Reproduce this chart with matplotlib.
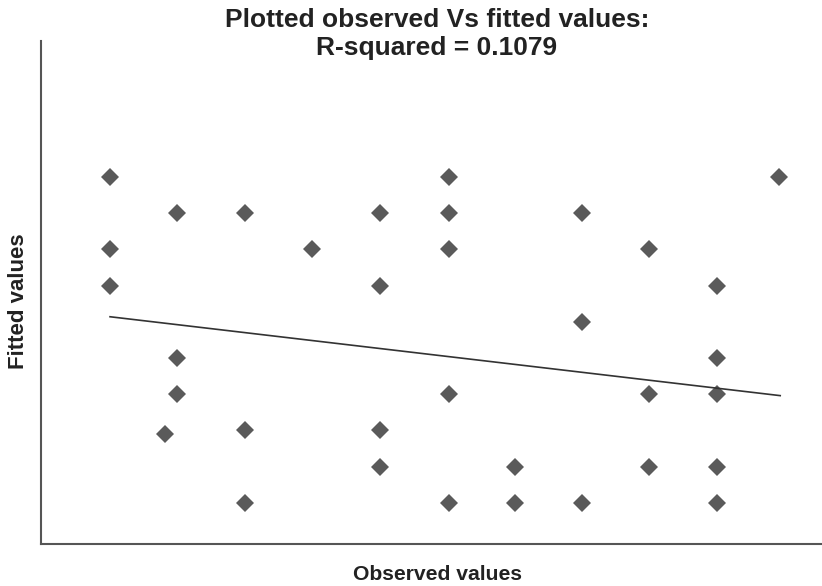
import matplotlib
matplotlib.use("Agg")
import matplotlib.pyplot as plt
import numpy as np

plt.rcParams['font.family'] = ['Liberation Sans', 'DejaVu Sans']

# observed (x) and fitted (y) values
obs = [1, 1, 1, 2, 2, 2, 1.82, 3, 3, 3, 4, 5, 5, 5, 5,
       6.03, 6.03, 6.03, 6.03, 6.03, 7, 7, 8, 8, 8, 9, 9, 9, 10, 10, 10, 10, 10, 10.92]
fitted = [10, 8, 7, 9, 5, 4, 2.9, 9, 3, 1, 8, 9, 7, 3, 2,
          10, 9, 8, 4, 1, 2, 1, 9, 6, 1, 8, 4, 2, 7, 5, 4, 2, 1, 10]

# regression line end points
line_x = [1, 10.94]
line_y = [6.14, 3.96]

fig = plt.figure(figsize=(8.22, 5.86), dpi=100)
ax = fig.add_axes([41/822, 1 - 544/586, 1 - 41/822, (544 - 41)/586])

ax.plot(obs, fitted, linestyle='none', marker='D', markersize=9.5,
        color='#5a5a5a', markeredgewidth=0)
ax.plot(line_x, line_y, color='#333333', linewidth=1.2)

ax.set_xlim(-0.024, 11.56)
ax.set_ylim(-0.14, 13.76)
ax.set_xticks([])
ax.set_yticks([])
for s in ['top', 'right']:
    ax.spines[s].set_visible(False)
for s in ['left', 'bottom']:
    ax.spines[s].set_color('#555555')
    ax.spines[s].set_linewidth(1.5)

fig.text(437/822, 1 - 27/586, "Plotted observed Vs fitted values:", ha='center',
         va='baseline', fontsize=19, fontweight='bold', color='#222222')
fig.text(437/822, 1 - 55/586, "R-squared = 0.1079", ha='center',
         va='baseline', fontsize=19, fontweight='bold', color='#222222')
fig.text(437/822, 1 - 580/586, "Observed values", ha='center', va='baseline',
         fontsize=15.2, fontweight='bold', color='#222222')
fig.text(19/822, 1 - 301/586, "Fitted values", ha='center', va='center',
         rotation=90, fontsize=16, fontweight='bold', color='#222222')

fig.savefig("out.png", dpi=100)
